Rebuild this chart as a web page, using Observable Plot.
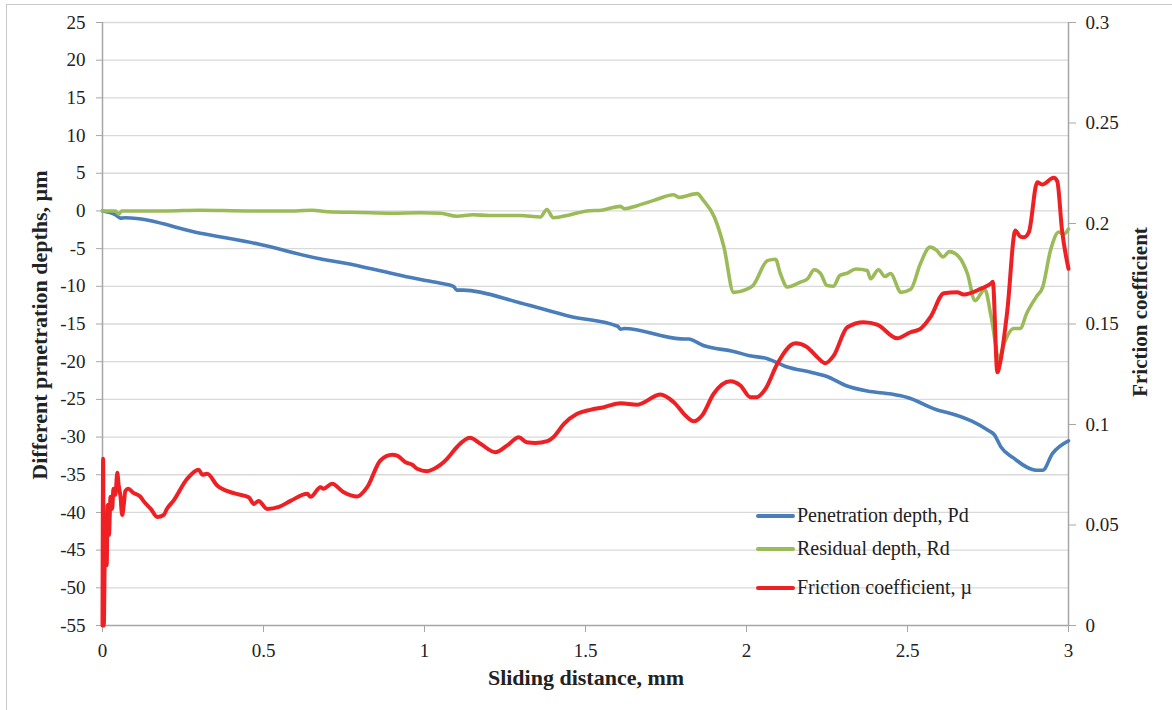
<!DOCTYPE html>
<html>
<head>
<meta charset="utf-8">
<script src="https://cdn.jsdelivr.net/npm/d3@7"></script>
<script src="https://cdn.jsdelivr.net/npm/@observablehq/plot@0.6"></script>
<style>
  html, body { margin: 0; padding: 0; background: #fff; }
  #wrap { position: relative; width: 1172px; height: 710px; overflow: hidden; }
  #frame { position: absolute; left: 6px; top: 4px; width: 1180px; height: 720px; border: 1px solid #c8c8c8; box-sizing: border-box; pointer-events: none; }
</style>
</head>
<body>
<div id="wrap"><div id="frame"></div></div>
<script>
// ---- data ----
const penetrationX = [0,0.04,0.056,0.07,0.304,0.48,0.686,0.75,0.9,0.988,1.05,1.09,1.10,1.12,1.298,1.453,1.60,1.609,1.62,1.795,1.82,1.866,1.96,2.01,2.065,2.127,2.2,2.25,2.31,2.375,2.45,2.5,2.6,2.62,2.7,2.75,2.77,2.79,2.83,2.90,2.92,2.95,3.0];
const penetrationY = [0,-0.5,-0.96,-0.9,-2.95,-4.36,-6.44,-6.9,-8.3,-9.1,-9.6,-10.0,-10.5,-10.5,-12.2,-14.0,-15.3,-15.7,-15.6,-16.97,-17.0,-17.85,-18.65,-19.2,-19.6,-20.7,-21.4,-21.97,-23.2,-23.9,-24.3,-24.75,-26.5,-26.7,-27.9,-29.1,-29.7,-31.3,-32.8,-34.4,-34.4,-32.2,-30.5];

const residualX = [0,0.04,0.05,0.06,0.2,0.3,0.45,0.6,0.65,0.7,0.8,0.9,0.988,1.05,1.10,1.15,1.2,1.298,1.36,1.38,1.40,1.453,1.505,1.55,1.609,1.62,1.66,1.712,1.774,1.79,1.847,1.866,1.9,1.93,1.96,2.0,2.02,2.065,2.09,2.105,2.127,2.167,2.19,2.21,2.23,2.25,2.27,2.29,2.31,2.34,2.375,2.385,2.41,2.43,2.447,2.48,2.51,2.54,2.57,2.59,2.61,2.63,2.66,2.686,2.71,2.74,2.76,2.785,2.80,2.83,2.85,2.87,2.90,2.92,2.944,2.97,2.985,3.0];
const residualY = [0,0,-0.4,0,0,0.1,0,0,0.1,-0.1,-0.2,-0.3,-0.25,-0.3,-0.7,-0.5,-0.6,-0.6,-0.8,0.2,-0.9,-0.5,0,0.1,0.6,0.3,0.7,1.4,2.15,1.8,2.3,1.4,-0.8,-4.8,-10.8,-10.4,-9.9,-6.6,-6.4,-8.3,-10.1,-9.45,-9.0,-7.8,-8.3,-9.9,-10.0,-8.55,-8.3,-7.7,-7.9,-9.0,-7.8,-8.7,-8.3,-10.8,-10.4,-7.0,-4.8,-5.2,-6.1,-5.4,-6.1,-8.3,-11.9,-10.4,-14.1,-19.5,-17.6,-15.6,-15.6,-13.6,-11.4,-10.1,-5.25,-2.8,-3.1,-2.4];

const frictionX = [0,0.002,0.004,0.007,0.01,0.013,0.016,0.02,0.025,0.03,0.034,0.04,0.046,0.05,0.056,0.061,0.066,0.071,0.08,0.096,0.118,0.127,0.15,0.17,0.19,0.2,0.22,0.263,0.299,0.31,0.325,0.356,0.408,0.454,0.47,0.485,0.511,0.548,0.584,0.636,0.646,0.677,0.686,0.713,0.749,0.791,0.822,0.863,0.9,0.915,0.941,0.962,0.977,1.008,1.03,1.05,1.07,1.10,1.141,1.174,1.22,1.257,1.293,1.317,1.345,1.381,1.40,1.433,1.474,1.515,1.557,1.609,1.66,1.733,1.774,1.816,1.836,1.862,1.898,1.95,1.981,2.012,2.03,2.06,2.095,2.152,2.188,2.22,2.245,2.271,2.313,2.364,2.406,2.468,2.509,2.54,2.571,2.613,2.654,2.675,2.727,2.758,2.765,2.779,2.789,2.81,2.835,2.85,2.862,2.877,2.903,2.918,2.954,2.965,2.98,3.0];
const frictionY = [0,0.083,0,0.035,0.055,0.03,0.06,0.045,0.064,0.058,0.068,0.065,0.076,0.07,0.064,0.055,0.06,0.067,0.068,0.066,0.064,0.062,0.058,0.054,0.055,0.058,0.062,0.073,0.0775,0.075,0.0755,0.0697,0.0658,0.0638,0.0605,0.062,0.058,0.059,0.062,0.0655,0.064,0.0688,0.068,0.0705,0.0663,0.0642,0.0688,0.0821,0.0849,0.0845,0.0812,0.080,0.078,0.0768,0.078,0.080,0.0829,0.0887,0.0934,0.0904,0.0862,0.0896,0.0937,0.0912,0.0908,0.0917,0.0937,0.1003,0.1053,0.1073,0.1086,0.1106,0.1098,0.1149,0.1111,0.1036,0.1016,0.1045,0.1153,0.1215,0.1194,0.1136,0.1135,0.118,0.130,0.1404,0.1385,0.1335,0.1305,0.1343,0.1484,0.1509,0.1497,0.1429,0.1459,0.1476,0.1534,0.1653,0.1658,0.1647,0.1675,0.170,0.171,0.126,0.1318,0.1567,0.1965,0.1935,0.1932,0.1957,0.2205,0.2194,0.2227,0.221,0.1965,0.1775];

const xTicks = [0,0.5,1,1.5,2,2.5,3];
const leftTicks = [-55,-50,-45,-40,-35,-30,-25,-20,-15,-10,-5,0,5,10,15,20,25];
const rightTicks = [0,0.05,0.1,0.15,0.2,0.25,0.3];

const seriesNames = ["Penetration depth, Pd","Residual depth, Rd","Friction coefficient, µ"];
const seriesColors = ["#4a7ebb","#9bbb59","#ee2024"];

// friction (right axis 0..0.3) mapped onto left axis domain (-55..25)
const fToLeft = f => -55 + f / 0.3 * 80;
const leftToF = v => (v + 55) / 80 * 0.3;

const pen = penetrationX.map((x,i)=>({x, y: penetrationY[i]}));
const res = residualX.map((x,i)=>({x, y: residualY[i]}));
const fri = frictionX.map((x,i)=>({x, y: fToLeft(frictionY[i])}));

const FONT = "'Liberation Serif', 'DejaVu Serif', serif";
const AX = {fontSize: 19, stroke: "#a6a6a6", label: null, fill: "#222"};

const chart = Plot.plot({
  width: 1172,
  height: 710,
  marginLeft: 102,
  marginRight: 104,
  marginTop: 22,
  marginBottom: 85,
  style: {fontSize: "19px", color: "#222", background: "transparent"},
  x: {domain: [0,3]},
  y: {domain: [-55,25]},
  marks: [
    Plot.gridY(leftTicks.filter(d=>d!==-55), {stroke: "#d9d9d9", strokeOpacity: 1, strokeWidth: 1.3}),
    Plot.axisX({...AX, ticks: xTicks, tickSize: 7, tickPadding: 11, tickFormat: d=>String(d)}),
    Plot.axisY({...AX, anchor: "left", ticks: leftTicks, tickSize: 6, tickPadding: 11, tickFormat: d=>String(d)}),
    Plot.axisY({...AX, anchor: "right", ticks: rightTicks.map(fToLeft), tickSize: 7, tickPadding: 10, tickFormat: d=>String(+leftToF(d).toFixed(2))}),
    Plot.ruleY([-55], {stroke: "#a6a6a6", strokeWidth: 1.5}),
    Plot.ruleX([0], {stroke: "#a6a6a6", strokeWidth: 1.5}),
    Plot.ruleX([3], {stroke: "#a6a6a6", strokeWidth: 1.5}),
    Plot.line(pen, {x: "x", y: "y", stroke: seriesColors[0], strokeWidth: 3.6, curve: "monotone-x"}),
    Plot.line(res, {x: "x", y: "y", stroke: seriesColors[1], strokeWidth: 3.6, curve: "monotone-x"}),
    Plot.line(fri, {x: "x", y: "y", stroke: seriesColors[2], strokeWidth: 4, curve: "monotone-x"})
  ]
});

const svg = d3.select(chart);
svg.style("font-family", FONT);
// axis titles
svg.append("text").attr("transform","translate(47,325) rotate(-90)")
  .attr("text-anchor","middle").attr("font-weight","bold").attr("font-size",22).attr("fill","#222")
  .text("Different prnetration depths, µm");
svg.append("text").attr("transform","translate(1147,312) rotate(-90)")
  .attr("text-anchor","middle").attr("font-weight","bold").attr("font-size",21).attr("fill","#222")
  .text("Friction coefficient");
svg.append("text").attr("x",586).attr("y",685)
  .attr("text-anchor","middle").attr("font-weight","bold").attr("font-size",22).attr("fill","#222")
  .text("Sliding distance, mm");
// legend
const lg = svg.append("g").attr("transform","translate(758,516)");
seriesNames.forEach((n,i)=>{
  const g = lg.append("g").attr("transform",`translate(0,${[0,33,72][i]})`);
  g.append("line").attr("x1",0).attr("x2",35).attr("y1",0).attr("y2",0)
    .attr("stroke",seriesColors[i]).attr("stroke-width",4).attr("stroke-linecap","round");
  g.append("text").attr("x",39).attr("y",6).attr("text-anchor","start").attr("font-size",20).attr("fill","#222").text(n);
});
svg.selectAll("text").style("font-family", FONT);

document.getElementById("wrap").appendChild(chart);
chart.style.position = "absolute"; chart.style.left = "0"; chart.style.top = "0";
</script>
</body>
</html>
